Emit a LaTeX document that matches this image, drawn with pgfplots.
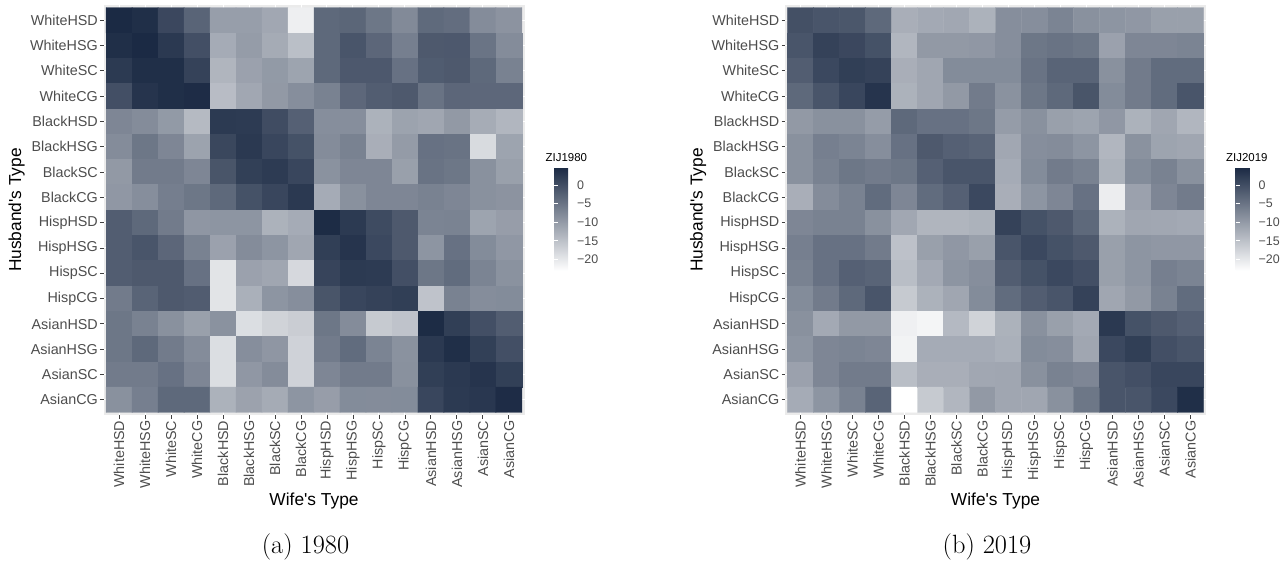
\documentclass[border=0pt]{standalone}
\usepackage{fontspec}
\usepackage{pgfplots}
\pgfplotsset{compat=1.18}
\newfontfamily\arial{Liberation Sans}[Ligatures=TeXOff]
\definecolor{tickgray}{RGB}{77,77,77}
\definecolor{panelgray}{RGB}{235,235,235}
\pgfplotsset{
 zijaxis/.style={
  scale only axis, width=421bp, height=410bp,
  xmin=-0.6, xmax=15.6, ymin=-0.6, ymax=15.6, y dir=reverse,
  axis background/.style={fill=panelgray},
  axis line style={draw=none},
  xmajorgrids, ymajorgrids, grid style={white, line width=1bp},
  xtick={0,...,15}, ytick={0,...,15},
  xticklabels={WhiteHSD,WhiteHSG,WhiteSC,WhiteCG,BlackHSD,BlackHSG,BlackSC,BlackCG,HispHSD,HispHSG,HispSC,HispCG,AsianHSD,AsianHSG,AsianSC,AsianCG},
  yticklabels={WhiteHSD,WhiteHSG,WhiteSC,WhiteCG,BlackHSD,BlackHSG,BlackSC,BlackCG,HispHSD,HispHSG,HispSC,HispCG,AsianHSD,AsianHSG,AsianSC,AsianCG},
  tick align=outside, tick pos=left,
  major tick length=3.5bp,
  major tick style={color=black!75, line width=0.9bp},
  tick label style={font=\arial\fontsize{14.4}{16}\selectfont, text=tickgray, inner sep=2bp},
  xticklabel style={rotate=90, anchor=east},
  label style={font=\arial\fontsize{17.4}{20}\selectfont, text=black},
  xlabel={Wife's Type}, ylabel={Husband's Type},
  xlabel style={at={(axis description cs:0.5,-0.2098)}, anchor=center},
  ylabel style={at={(axis description cs:-0.2062,0.5)}, anchor=center},
  colormap={zij}{rgb255=(255,255,255) rgb255=(27,42,68)},
  point meta min=-23, point meta max=4.7,
  colorbar,
  colorbar style={
   scale only axis, width=20bp, height=103.2bp,
   at={(parent axis.north east)}, anchor=north west, xshift=21bp, yshift=-162.5bp,
   y dir=normal, xlabel={}, ylabel={}, title={},
   xmajorgrids=false, ymajorgrids=false,
   axis background/.style={},
   axis line style={draw=none},
   ytick={0,-5,-10,-15,-20}, yticklabels={0,−5,−10,−15,−20},
   tick align=inside, ytick pos=both, yticklabel pos=right,
   major tick length=4bp, major tick style={color=white, line width=0.8bp},
   yticklabel style={font=\arial\fontsize{12.5}{14}\selectfont, text=tickgray, inner sep=3bp, anchor=west},
  },
 }
}
\begin{document}
\begin{tikzpicture}
\begin{axis}[zijaxis, at={(103.5bp,146bp)}, anchor=south west]
\addplot[matrix plot*, point meta=explicit, mesh/cols=16] coordinates {
(0,0)[4.6] (1,0)[3.9] (2,0)[0.7] (3,0)[-3.0] (4,0)[-10.5] (5,0)[-10.5] (6,0)[-11.7] (7,0)[-20.9] (8,0)[-3.6] (9,0)[-3.2] (10,0)[-5.4] (11,0)[-7.9] (12,0)[-3.7] (13,0)[-4.2] (14,0)[-8.2] (15,0)[-9.1]
(0,1)[3.9] (1,1)[4.7] (2,1)[2.6] (3,1)[-0.3] (4,1)[-12.2] (5,1)[-10.2] (6,1)[-12.1] (7,1)[-14.7] (8,1)[-3.6] (9,1)[-1.1] (10,1)[-3.3] (11,1)[-6.5] (12,1)[-1.6] (13,1)[-1.5] (14,1)[-5.0] (15,1)[-8.2]
(0,2)[2.4] (1,2)[3.9] (2,2)[3.9] (3,2)[1.4] (4,2)[-13.5] (5,2)[-10.9] (6,2)[-9.9] (7,2)[-11.2] (8,2)[-3.6] (9,2)[-1.5] (10,2)[-1.5] (11,2)[-4.7] (12,2)[-1.9] (13,2)[-1.6] (14,2)[-3.6] (15,2)[-6.8]
(0,3)[-0.3] (1,3)[3.2] (2,3)[3.9] (3,3)[4.2] (4,3)[-14.4] (5,3)[-11.7] (6,3)[-9.8] (7,3)[-8.4] (8,3)[-6.8] (9,3)[-3.4] (10,3)[-2.1] (11,3)[-1.6] (12,3)[-4.9] (13,3)[-3.3] (14,3)[-3.4] (15,3)[-3.4]
(0,4)[-7.4] (1,4)[-8.2] (2,4)[-9.9] (3,4)[-14.1] (4,4)[2.4] (5,4)[2.3] (6,4)[0.1] (7,4)[-2.5] (8,4)[-8.4] (9,4)[-8.4] (10,4)[-13.0] (11,4)[-11.1] (12,4)[-11.5] (13,4)[-9.8] (14,4)[-12.3] (15,4)[-13.6]
(0,5)[-8.2] (1,5)[-5.4] (2,5)[-7.4] (3,5)[-11.1] (4,5)[0.8] (5,5)[2.6] (6,5)[0.9] (7,5)[-0.6] (8,5)[-8.2] (9,5)[-6.8] (10,5)[-12.6] (11,5)[-10.1] (12,5)[-4.7] (13,5)[-4.9] (14,5)[-18.3] (15,5)[-11.2]
(0,6)[-9.8] (1,6)[-6.0] (2,6)[-6.0] (3,6)[-7.4] (4,6)[-1.0] (5,6)[1.7] (6,6)[2.3] (7,6)[0.9] (8,6)[-8.9] (9,6)[-7.4] (10,6)[-7.4] (11,6)[-10.7] (12,6)[-4.9] (13,6)[-5.4] (14,6)[-8.8] (15,6)[-10.7]
(0,7)[-9.6] (1,7)[-8.4] (2,7)[-6.4] (3,7)[-5.4] (4,7)[-3.6] (5,7)[-0.6] (6,7)[0.9] (7,7)[2.6] (8,7)[-12.2] (9,7)[-8.8] (10,7)[-7.4] (11,7)[-7.4] (12,7)[-6.8] (13,7)[-7.4] (14,7)[-8.8] (15,7)[-9.1]
(0,8)[-2.1] (1,8)[-3.6] (2,8)[-6.0] (3,8)[-9.5] (4,8)[-9.3] (5,8)[-9.3] (6,8)[-13.0] (7,8)[-12.2] (8,8)[4.3] (9,8)[2.4] (10,8)[0.3] (11,8)[-1.6] (12,8)[-7.1] (13,8)[-7.0] (14,8)[-11.2] (15,8)[-10.4]
(0,9)[-2.1] (1,9)[-1.1] (2,9)[-3.3] (3,9)[-6.8] (4,9)[-10.9] (5,9)[-8.2] (6,9)[-9.3] (7,9)[-11.5] (8,9)[1.8] (9,9)[3.2] (10,9)[0.6] (11,9)[-1.6] (12,9)[-9.3] (13,9)[-4.7] (14,9)[-8.1] (15,9)[-9.6]
(0,10)[-2.1] (1,10)[-1.6] (2,10)[-1.6] (3,10)[-4.7] (4,10)[-19.5] (5,10)[-10.9] (6,10)[-11.5] (7,10)[-18.0] (8,10)[1.1] (9,10)[2.4] (10,10)[2.3] (11,10)[-0.3] (12,10)[-5.4] (13,10)[-4.0] (14,10)[-7.1] (15,10)[-8.9]
(0,11)[-6.0] (1,11)[-3.0] (2,11)[-1.6] (3,11)[-2.0] (4,11)[-19.5] (5,11)[-12.8] (6,11)[-9.3] (7,11)[-8.4] (8,11)[-1.0] (9,11)[0.9] (10,11)[1.4] (11,11)[1.8] (12,11)[-15.3] (13,11)[-6.8] (14,11)[-8.3] (15,11)[-8.1]
(0,12)[-5.4] (1,12)[-6.8] (2,12)[-8.8] (3,12)[-10.7] (4,12)[-8.9] (5,12)[-18.7] (6,12)[-17.3] (7,12)[-16.6] (8,12)[-5.4] (9,12)[-8.2] (10,12)[-16.1] (11,12)[-15.3] (12,12)[4.3] (13,12)[1.8] (14,12)[-0.3] (15,12)[-2.1]
(0,13)[-5.4] (1,13)[-3.6] (2,13)[-6.0] (3,13)[-8.2] (4,13)[-18.7] (5,13)[-8.4] (6,13)[-9.5] (7,13)[-17.2] (8,13)[-6.0] (9,13)[-4.0] (10,13)[-7.1] (11,13)[-8.9] (12,13)[2.6] (13,13)[3.9] (14,13)[1.7] (15,13)[-0.3]
(0,14)[-6.0] (1,14)[-6.0] (2,14)[-4.7] (3,14)[-7.4] (4,14)[-18.7] (5,14)[-9.6] (6,14)[-8.2] (7,14)[-17.2] (8,14)[-7.4] (9,14)[-6.0] (10,14)[-6.0] (11,14)[-8.8] (12,14)[1.8] (13,14)[2.6] (14,14)[3.2] (15,14)[1.7]
(0,15)[-8.8] (1,15)[-6.5] (2,15)[-3.6] (3,15)[-3.6] (4,15)[-13.0] (5,15)[-11.0] (6,15)[-12.1] (7,15)[-9.3] (8,15)[-10.4] (9,15)[-8.1] (10,15)[-8.2] (11,15)[-8.1] (12,15)[0.9] (13,15)[2.4] (14,15)[2.8] (15,15)[4.2]
};
\end{axis}
\begin{axis}[zijaxis, at={(785bp,146bp)}, anchor=south west]
\addplot[matrix plot*, point meta=explicit, mesh/cols=16] coordinates {
(0,0)[-0.4] (1,0)[-1.1] (2,0)[-1.3] (3,0)[-3.6] (4,0)[-12.6] (5,0)[-11.9] (6,0)[-11.7] (7,0)[-13.0] (8,0)[-8.4] (9,0)[-8.4] (10,0)[-7.1] (11,0)[-8.8] (12,0)[-9.3] (13,0)[-9.6] (14,0)[-10.7] (15,0)[-10.7]
(0,1)[-1.1] (1,1)[1.4] (2,1)[0.7] (3,1)[-0.6] (4,1)[-13.6] (5,1)[-9.8] (6,1)[-9.8] (7,1)[-9.6] (8,1)[-8.4] (9,1)[-5.4] (10,1)[-4.9] (11,1)[-5.4] (12,1)[-10.9] (13,1)[-7.4] (14,1)[-7.4] (15,1)[-7.1]
(0,2)[-2.1] (1,2)[0.6] (2,2)[1.8] (3,2)[1.4] (4,2)[-12.6] (5,2)[-11.5] (6,2)[-8.1] (7,2)[-8.1] (8,2)[-8.1] (9,2)[-4.9] (10,2)[-3.0] (11,2)[-3.0] (12,2)[-8.8] (13,2)[-6.0] (14,2)[-4.0] (15,2)[-4.0]
(0,3)[-3.6] (1,3)[-1.1] (2,3)[0.9] (3,3)[3.2] (4,3)[-13.0] (5,3)[-11.5] (6,3)[-9.8] (7,3)[-6.0] (8,3)[-8.9] (9,3)[-5.4] (10,3)[-3.6] (11,3)[-1.0] (12,3)[-8.1] (13,3)[-6.0] (14,3)[-4.0] (15,3)[-1.1]
(0,4)[-9.8] (1,4)[-8.8] (2,4)[-8.8] (3,4)[-10.2] (4,4)[-3.6] (5,4)[-4.7] (6,4)[-4.7] (7,4)[-5.4] (8,4)[-10.2] (9,4)[-8.8] (10,4)[-10.7] (11,4)[-11.2] (12,4)[-9.6] (13,4)[-13.0] (14,4)[-11.5] (15,4)[-13.6]
(0,5)[-8.8] (1,5)[-6.5] (2,5)[-7.1] (3,5)[-8.4] (4,5)[-4.7] (5,5)[-1.6] (6,5)[-2.5] (7,5)[-3.0] (8,5)[-11.7] (9,5)[-8.4] (10,5)[-8.2] (11,5)[-9.3] (12,5)[-13.6] (13,5)[-8.9] (14,5)[-11.2] (15,5)[-11.5]
(0,6)[-8.8] (1,6)[-6.8] (2,6)[-5.4] (3,6)[-6.0] (4,6)[-5.4] (5,6)[-2.5] (6,6)[-1.1] (7,6)[-1.1] (8,6)[-12.2] (9,6)[-8.1] (10,6)[-6.0] (11,6)[-6.8] (12,6)[-13.0] (13,6)[-8.1] (14,6)[-6.8] (15,6)[-8.8]
(0,7)[-12.6] (1,7)[-8.2] (2,7)[-6.8] (3,7)[-4.0] (4,7)[-7.4] (5,7)[-4.0] (6,7)[-2.5] (7,7)[0.6] (8,7)[-12.6] (9,7)[-9.3] (10,7)[-7.4] (11,7)[-4.7] (12,7)[-20.7] (13,7)[-10.9] (14,7)[-7.4] (15,7)[-6.0]
(0,8)[-7.4] (1,8)[-6.8] (2,8)[-6.8] (3,8)[-8.8] (4,8)[-11.7] (5,8)[-13.5] (6,8)[-13.5] (7,8)[-13.0] (8,8)[1.4] (9,8)[-0.6] (10,8)[-1.6] (11,8)[-3.6] (12,8)[-13.0] (13,8)[-11.5] (14,8)[-11.7] (15,8)[-11.9]
(0,9)[-6.5] (1,9)[-4.7] (2,9)[-4.7] (3,9)[-6.0] (4,9)[-15.0] (5,9)[-10.7] (6,9)[-9.6] (7,9)[-10.7] (8,9)[-1.1] (9,9)[0.6] (10,9)[-0.6] (11,9)[-1.6] (12,9)[-10.7] (13,9)[-9.3] (14,9)[-9.6] (15,9)[-9.6]
(0,10)[-6.8] (1,10)[-4.7] (2,10)[-2.5] (3,10)[-3.0] (4,10)[-14.6] (5,10)[-11.9] (6,10)[-9.3] (7,10)[-8.4] (8,10)[-2.1] (9,10)[-0.6] (10,10)[0.6] (11,10)[-0.3] (12,10)[-10.7] (13,10)[-9.3] (14,10)[-6.5] (15,10)[-7.1]
(0,11)[-8.1] (1,11)[-6.0] (2,11)[-3.6] (3,11)[-1.1] (4,11)[-16.1] (5,11)[-13.0] (6,11)[-11.5] (7,11)[-8.1] (8,11)[-4.0] (9,11)[-2.1] (10,11)[-1.1] (11,11)[1.4] (12,11)[-11.5] (13,11)[-9.8] (14,11)[-6.8] (15,11)[-4.0]
(0,12)[-8.8] (1,12)[-11.9] (2,12)[-9.8] (3,12)[-9.8] (4,12)[-21.1] (5,12)[-21.7] (6,12)[-14.0] (7,12)[-17.3] (8,12)[-13.0] (9,12)[-8.8] (10,12)[-10.7] (11,12)[-11.9] (12,12)[2.6] (13,12)[-0.6] (14,12)[-1.6] (15,12)[-2.5]
(0,13)[-9.3] (1,13)[-7.4] (2,13)[-7.1] (3,13)[-7.4] (4,13)[-21.4] (5,13)[-12.2] (6,13)[-12.2] (7,13)[-12.2] (8,13)[-12.8] (9,13)[-8.1] (10,13)[-8.4] (11,13)[-11.5] (12,13)[0.6] (13,13)[1.8] (14,13)[-0.3] (15,13)[-1.1]
(0,14)[-10.9] (1,14)[-7.4] (2,14)[-6.0] (3,14)[-6.0] (4,14)[-14.6] (5,14)[-12.6] (6,14)[-12.6] (7,14)[-11.7] (8,14)[-11.5] (9,14)[-8.8] (10,14)[-6.8] (11,14)[-7.4] (12,14)[-1.1] (13,14)[-0.3] (14,14)[0.9] (15,14)[0.9]
(0,15)[-12.2] (1,15)[-9.3] (2,15)[-6.8] (3,15)[-3.0] (4,15)[-23.0] (5,15)[-16.1] (6,15)[-13.6] (7,15)[-9.8] (8,15)[-11.5] (9,15)[-11.5] (10,15)[-8.8] (11,15)[-5.4] (12,15)[-1.1] (13,15)[-1.1] (14,15)[0.6] (15,15)[3.9]
};
\end{axis}
\node[anchor=base west, inner sep=0pt] at (545.5bp,399.5bp) {\arial\fontsize{11.5}{13}\selectfont ZIJ1980};
\node[anchor=base west, inner sep=0pt] at (1226bp,399.5bp) {\arial\fontsize{11.5}{13}\selectfont ZIJ2019};
\node at (305.5bp,14.3bp) {\fontsize{26.5}{30}\selectfont (a) 1980};
\node at (987bp,14.3bp) {\fontsize{26.5}{30}\selectfont (b) 2019};
\pgfresetboundingbox
\path[use as bounding box] (0,0) rectangle (1283bp,561bp);
\end{tikzpicture}
\end{document}
